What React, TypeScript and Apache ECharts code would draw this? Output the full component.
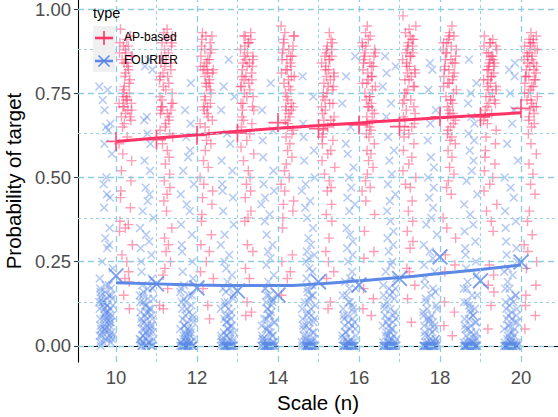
import React, { useEffect, useRef } from "react";
import * as echarts from "echarts";

// ---- data ----
const SCALES = [10, 11, 12, 13, 14, 15, 16, 17, 18, 19, 20];

// AP-based: observed probabilities (percent) per scale n
const AP_POINTS = [
  "94 92 90 89 88 87 86 85 84 82 80 78 76 75 74 74 73 72 71 70 69 68 66 65 62 60 57 55 52 49 46 44 41 37 36 35 34 30 27 25 22 20 19 15 11 91 89 87 86 84 83 81 79 77 75 73 72 71 70 68 67",
  "94 93 91 90 88 87 85 84 83 81 80 79 77 75 73 72 71 70 70 69 67 66 64 62 60 58 56 54 51 49 47 45 43 40 35 32 30 28 25 23 21 17 12 11 92 90 89 86 84 82 80 78 76 74 72 71 69 68 65 63",
  "93 92 91 89 88 86 85 84 83 82 82 81 79 78 76 74 72 71 70 69 67 65 63 61 60 58 55 53 50 48 46 44 42 39 37 33 30 28 25 22 20 17 12 8 92 90 88 87 85 83 82 81 80 78 77 75 73 71 68 66",
  "93 92 91 90 89 87 86 85 84 83 81 80 79 78 77 75 74 72 71 70 68 66 65 63 61 59 57 55 52 50 48 46 44 40 38 37 30 28 23 20 13 10 9 92 90 88 86 85 84 83 82 80 79 77 76 74 72 70 67",
  "95 93 92 91 89 88 87 86 85 84 82 81 80 78 77 76 74 72 71 70 69 67 66 64 62 60 58 56 54 52 50 48 46 43 42 40 38 35 27 25 22 20 15 92 90 88 86 85 83 82 80 79 75 73 71 70 68 65 63",
  "93 91 89 88 87 86 85 83 82 81 80 79 77 76 75 73 72 71 70 68 67 66 64 63 61 60 58 57 55 53 51 49 47 46 42 39 37 32 28 25 22 20 13 11 90 88 86 85 84 82 80 78 77 75 74 72 69 67 65 62",
  "95 93 92 90 89 88 87 86 85 84 83 82 80 79 78 77 75 74 72 71 70 68 67 65 63 62 60 58 57 55 53 51 49 47 46 43 39 34 28 26 17 14 11 9 91 89 87 86 84 83 81 80 78 76 74 73 71 69 66 64",
  "98 95 93 92 91 90 89 88 87 86 84 83 82 81 80 79 77 76 75 73 72 70 69 67 66 64 62 60 58 56 54 52 50 48 47 43 40 37 34 31 29 23 22 18 14 7 94 91 89 87 86 85 83 81 79 77 75 73 71 68 65 63",
  "95 93 92 91 90 89 88 87 86 85 84 83 82 81 80 79 78 77 76 74 73 72 70 69 68 66 65 63 61 60 58 56 53 51 49 47 45 38 35 32 27 24 22 13 10 6 3 92 90 88 87 85 84 82 80 78 75 73 71 69 67 64 62",
  "92 91 90 89 88 87 86 85 84 83 82 81 80 79 78 77 76 75 74 73 72 71 69 67 66 64 62 60 58 56 54 52 50 48 46 42 40 37 34 24 21 18 16 12 5 90 89 87 86 85 84 83 82 80 79 77 76 74 72 70 68",
  "93 92 91 90 89 88 87 86 86 85 84 83 82 81 80 80 79 78 77 76 75 74 73 72 71 70 69 67 66 65 63 60 57 54 51 48 45 40 37 33 30 28 25 23 18 15 12 9 5 91 90 89 88 87 85 84 83 82 80 79 77 75 73 71 68",
];

// FOURIER: observed probabilities (percent) per scale n
const FOURIER_POINTS = [
  "0 1 1 2 2 3 3 4 4 5 5 6 6 7 7 8 8 9 9 10 10 11 11 12 12 13 13 14 14 15 15 16 17 17 18 18 20 23 25 29 30 32 35 41 44 45 48 50 57 60 64 65 66 70 73 76 77 1 2 3 4 5 6 7 8 9 10 11 12 13 14 15 16 3 5 8 12",
  "0 0 0 0 0 1 1 1 2 2 2 3 3 4 4 5 5 6 6 7 8 8 9 10 10 11 12 13 14 15 16 17 18 20 22 25 27 29 31 33 35 38 40 43 45 47 52 55 60 63 67 68 82 83 85 0 0 0 1 1 2 3 4 5 6 7 8 9 10 11 12 13 14 15 17",
  "0 0 0 0 0 0 0 0 0 0 1 1 1 1 2 2 2 3 3 4 4 5 5 6 7 8 9 10 11 12 13 14 15 16 18 20 22 25 28 30 33 36 40 42 45 48 52 56 58 62 66 70 78 0 0 0 0 0 0 1 1 2 3 4 5 6 7 8 9 11 13 15 17",
  "0 0 0 0 0 0 0 0 0 0 0 1 1 1 2 2 3 3 4 4 5 6 7 8 9 10 11 12 13 14 16 17 19 21 23 25 27 30 33 36 40 44 46 48 52 55 60 63 70 74 77 85 0 0 0 0 0 0 1 1 2 3 4 5 6 7 8 9 11 13 15 17",
  "0 0 0 0 0 0 0 0 0 0 0 0 1 1 1 2 2 3 3 4 5 6 7 8 9 10 11 12 13 14 15 17 19 21 24 26 28 30 33 37 39 42 44 46 48 52 56 61 64 70 78 0 0 0 0 0 0 1 1 2 3 4 5 6 7 8 9 11 13 15 17",
  "0 0 0 0 0 0 0 0 0 0 0 0 1 1 1 2 2 3 4 5 6 7 8 9 10 11 12 13 14 15 16 18 20 22 23 25 26 27 28 30 32 35 38 41 43 46 48 50 55 58 62 66 74 80 0 0 0 0 0 0 1 1 2 3 4 5 6 7 8 9 11 13 15 17",
  "0 0 0 0 0 0 0 0 0 0 0 0 0 1 1 1 2 2 3 4 5 6 7 8 9 10 11 12 13 15 17 19 20 22 25 27 29 31 33 35 40 42 44 47 50 53 57 60 65 72 80 86 0 0 0 0 0 0 1 1 2 3 4 5 6 7 8 9 11 13 15 17",
  "0 0 0 0 0 0 0 0 0 0 0 0 0 1 1 1 2 2 3 3 4 5 6 7 8 9 10 11 12 14 15 16 17 18 20 22 24 25 28 30 32 34 37 40 43 45 48 51 55 58 62 68 72 77 81 83 86 0 0 0 0 0 0 1 1 2 3 4 5 6 7 8 9 11 13 15 17",
  "0 0 0 0 0 0 0 0 0 0 0 0 0 0 1 1 1 2 2 3 4 5 6 7 8 9 10 11 12 14 16 18 20 22 24 26 28 30 33 36 38 41 44 47 50 53 56 61 66 70 76 82 84 0 0 0 0 0 0 1 1 2 3 4 5 6 7 8 9 11 13 15 17",
  "0 0 0 0 0 0 0 0 0 0 0 0 0 1 1 1 2 2 3 4 5 6 7 8 9 10 11 12 13 15 17 19 21 23 25 27 29 31 34 36 39 42 45 49 52 55 58 61 63 66 68 72 75 78 85 0 0 0 0 0 0 1 1 2 3 4 5 6 7 8 9 11 13 15 17",
  "0 0 0 0 0 0 0 0 0 0 0 0 0 1 1 1 2 2 3 4 5 6 7 8 9 10 11 12 13 14 15 17 19 21 22 23 25 27 29 31 35 37 40 44 47 50 55 60 66 70 75 80 82 84 0 0 0 0 0 0 1 1 2 3 4 5 6 7 8 9 11 13 15 17",
];

// horizontal jitter fractions (0..1)
const JITTER = [0.12, 0.71, 0.38, 0.93, 0.05, 0.56, 0.27, 0.84, 0.44, 0.66, 0.19, 0.98, 0.33, 0.61, 0.08, 0.75, 0.49, 0.88, 0.23, 0.52, 0.02, 0.69, 0.36, 0.81, 0.15, 0.58, 0.91, 0.29, 0.47, 0.77, 0.4];

// per-scale summary markers (means)
const AP_MEAN = [0.607, 0.612, 0.625, 0.632, 0.663, 0.645, 0.656, 0.651, 0.68, 0.68, 0.705];
const FOURIER_MEAN = [0.208, 0.184, 0.172, 0.163, 0.151, 0.19, 0.181, 0.2, 0.264, 0.193, 0.249];

// smoothed trend
const AP_FIT = [0.607, 0.617, 0.627, 0.637, 0.646, 0.654, 0.662, 0.67, 0.677, 0.685, 0.692];
const FOURIER_FIT = [0.187, 0.184, 0.181, 0.179, 0.179, 0.184, 0.193, 0.203, 0.215, 0.227, 0.24];

const Y_TICKS = [0, 0.25, 0.5, 0.75, 1];
const Y_MINOR = [0.125, 0.375, 0.625, 0.875];
const X_TICKS = [10, 12, 14, 16, 18, 20];
const X_MINOR = [11, 13, 15, 17, 19];

const RED = "#FF3366";
const BLUE = "#5C89E6";
const GRIDC = "#8ECDE2";
const FONT = "Liberation Sans, Arial, Helvetica, sans-serif";

const PLUS = "path://M43,0H57V43H100V57H57V100H43V57H0V43H43Z";
const PLUS_THIN = "path://M45.5,0H54.5V45.5H100V54.5H54.5V100H45.5V54.5H0V45.5H45.5Z";

function buildPoints(strs: string[], lo: number, span: number, shift: number) {
  const out: number[][] = [];
  strs.forEach((s, k) => {
    const n = SCALES[k];
    s.trim().split(/\s+/).map(Number).forEach((v, i) => {
      const j = JITTER[(i * 7 + k * shift) % JITTER.length];
      out.push([n + lo + span * j, v / 100]);
    });
  });
  return out;
}

export default function App() {
  const ref = useRef<HTMLDivElement>(null);
  useEffect(() => {
    if (!ref.current) return;
    const chart = echarts.init(ref.current, null, { renderer: "svg" });
    const apPts = buildPoints(AP_POINTS, 0.07, 0.34, 5);
    const foPts = buildPoints(FOURIER_POINTS, -0.42, 0.35, 3);
    const gridLine = (vals: number[], axis: "x" | "y") =>
      vals.map((v) => (axis === "x" ? { xAxis: v } : { yAxis: v }));

    const option: any = {
      animation: false,
      grid: { left: 78, right: 0, top: 0, bottom: 55, containLabel: false, outerBoundsMode: "none" },
      xAxis: {
        type: "value",
        min: 9.062,
        max: 20.914,
        name: "Scale (n)",
        nameLocation: "middle",
        nameGap: 26,
        nameTextStyle: { fontFamily: FONT, fontSize: 20.5, color: "#000" },
        axisLine: { show: true, lineStyle: { color: "#000", width: 1.1 } },
        axisTick: { show: true, customValues: X_TICKS, length: 4, lineStyle: { color: "#333" } },
        axisLabel: {
          customValues: X_TICKS,
          fontFamily: FONT,
          fontSize: 18.5,
          color: "#4D4D4D",
          margin: 6,
        },
        splitLine: { show: false },
      },
      yAxis: {
        type: "value",
        min: -0.048,
        max: 1.027,
        name: "Probability of target",
        nameLocation: "middle",
        nameGap: 46,
        nameTextStyle: { fontFamily: FONT, fontSize: 20.5, color: "#000" },
        axisLine: { show: true, lineStyle: { color: "#000", width: 1.1 } },
        axisTick: { show: true, customValues: Y_TICKS, length: 4, lineStyle: { color: "#333" } },
        axisLabel: {
          customValues: Y_TICKS,
          formatter: (v: number) => v.toFixed(2),
          fontFamily: FONT,
          fontSize: 18.5,
          color: "#4D4D4D",
          margin: 7,
        },
        splitLine: { show: false },
      },
      series: [
        {
          type: "scatter",
          data: [],
          z: 0,
          silent: true,
          markLine: {
            silent: true,
            symbol: ["none", "none"],
            label: { show: false },
            lineStyle: { color: GRIDC, type: [3, 3], width: 0.9 },
            data: [...gridLine(Y_MINOR, "y"), ...gridLine(X_MINOR, "x")],
          },
        },
        {
          type: "scatter",
          data: [],
          z: 0,
          silent: true,
          markLine: {
            silent: true,
            symbol: ["none", "none"],
            label: { show: false },
            lineStyle: { color: GRIDC, type: [6, 4], width: 1.3 },
            data: [...gridLine(Y_TICKS, "y"), ...gridLine(X_TICKS, "x")],
          },
        },
        {
          name: "FOURIER",
          type: "scatter",
          data: foPts,
          symbol: PLUS,
          symbolRotate: 45,
          symbolSize: 11,
          itemStyle: { color: BLUE, opacity: 0.45 },
          z: 2,
        },
        {
          name: "AP-based",
          type: "scatter",
          data: apPts,
          symbol: PLUS,
          symbolSize: 10,
          itemStyle: { color: RED, opacity: 0.48 },
          z: 3,
        },
        {
          type: "line",
          data: SCALES.map((n, i) => [n, AP_FIT[i]]),
          smooth: true,
          showSymbol: false,
          lineStyle: { color: RED, width: 3 },
          z: 4,
        },
        {
          type: "line",
          data: SCALES.map((n, i) => [n, FOURIER_FIT[i]]),
          smooth: true,
          showSymbol: false,
          lineStyle: { color: BLUE, width: 3 },
          z: 4,
        },
        {
          type: "scatter",
          data: SCALES.map((n, i) => [n, AP_MEAN[i]]),
          symbol: PLUS_THIN,
          symbolSize: 19,
          itemStyle: { color: RED },
          z: 5,
        },
        {
          type: "scatter",
          data: SCALES.map((n, i) => [n, FOURIER_MEAN[i]]),
          symbol: PLUS_THIN,
          symbolRotate: 45,
          symbolSize: 21,
          itemStyle: { color: BLUE },
          z: 5,
        },
      ],
      graphic: [
        {
          type: "text",
          left: 93,
          top: 5,
          style: { text: "type", fontFamily: FONT, fontSize: 14.5, fill: "#000" },
          z: 10,
        },
        { type: "rect", shape: { x: 93, y: 26, width: 22, height: 46 }, style: { fill: "#F0F0F0" }, z: 10 },
        { type: "line", shape: { x1: 95, y1: 38, x2: 113, y2: 38 }, style: { stroke: RED, lineWidth: 2.6 }, z: 11 },
        { type: "line", shape: { x1: 104, y1: 31, x2: 104, y2: 45 }, style: { stroke: RED, lineWidth: 1.6 }, z: 11 },
        { type: "line", shape: { x1: 95, y1: 61, x2: 113, y2: 61 }, style: { stroke: BLUE, lineWidth: 2.6 }, z: 11 },
        { type: "line", shape: { x1: 98.5, y1: 55.5, x2: 109.5, y2: 66.5 }, style: { stroke: BLUE, lineWidth: 1.6 }, z: 11 },
        { type: "line", shape: { x1: 98.5, y1: 66.5, x2: 109.5, y2: 55.5 }, style: { stroke: BLUE, lineWidth: 1.6 }, z: 11 },
        {
          type: "text",
          left: 124,
          top: 31,
          style: { text: "AP-based", fontFamily: FONT, fontSize: 12, fill: "#000" },
          z: 11,
        },
        {
          type: "text",
          left: 124,
          top: 54,
          style: { text: "FOURIER", fontFamily: FONT, fontSize: 12, fill: "#000" },
          z: 11,
        },
      ],
    };
    chart.setOption(option);
    return () => chart.dispose();
  }, []);
  return (
    <div
      ref={ref}
      style={{ position: "absolute", left: 0, top: 0, width: 558, height: 417, background: "#fff" }}
    />
  );
}
